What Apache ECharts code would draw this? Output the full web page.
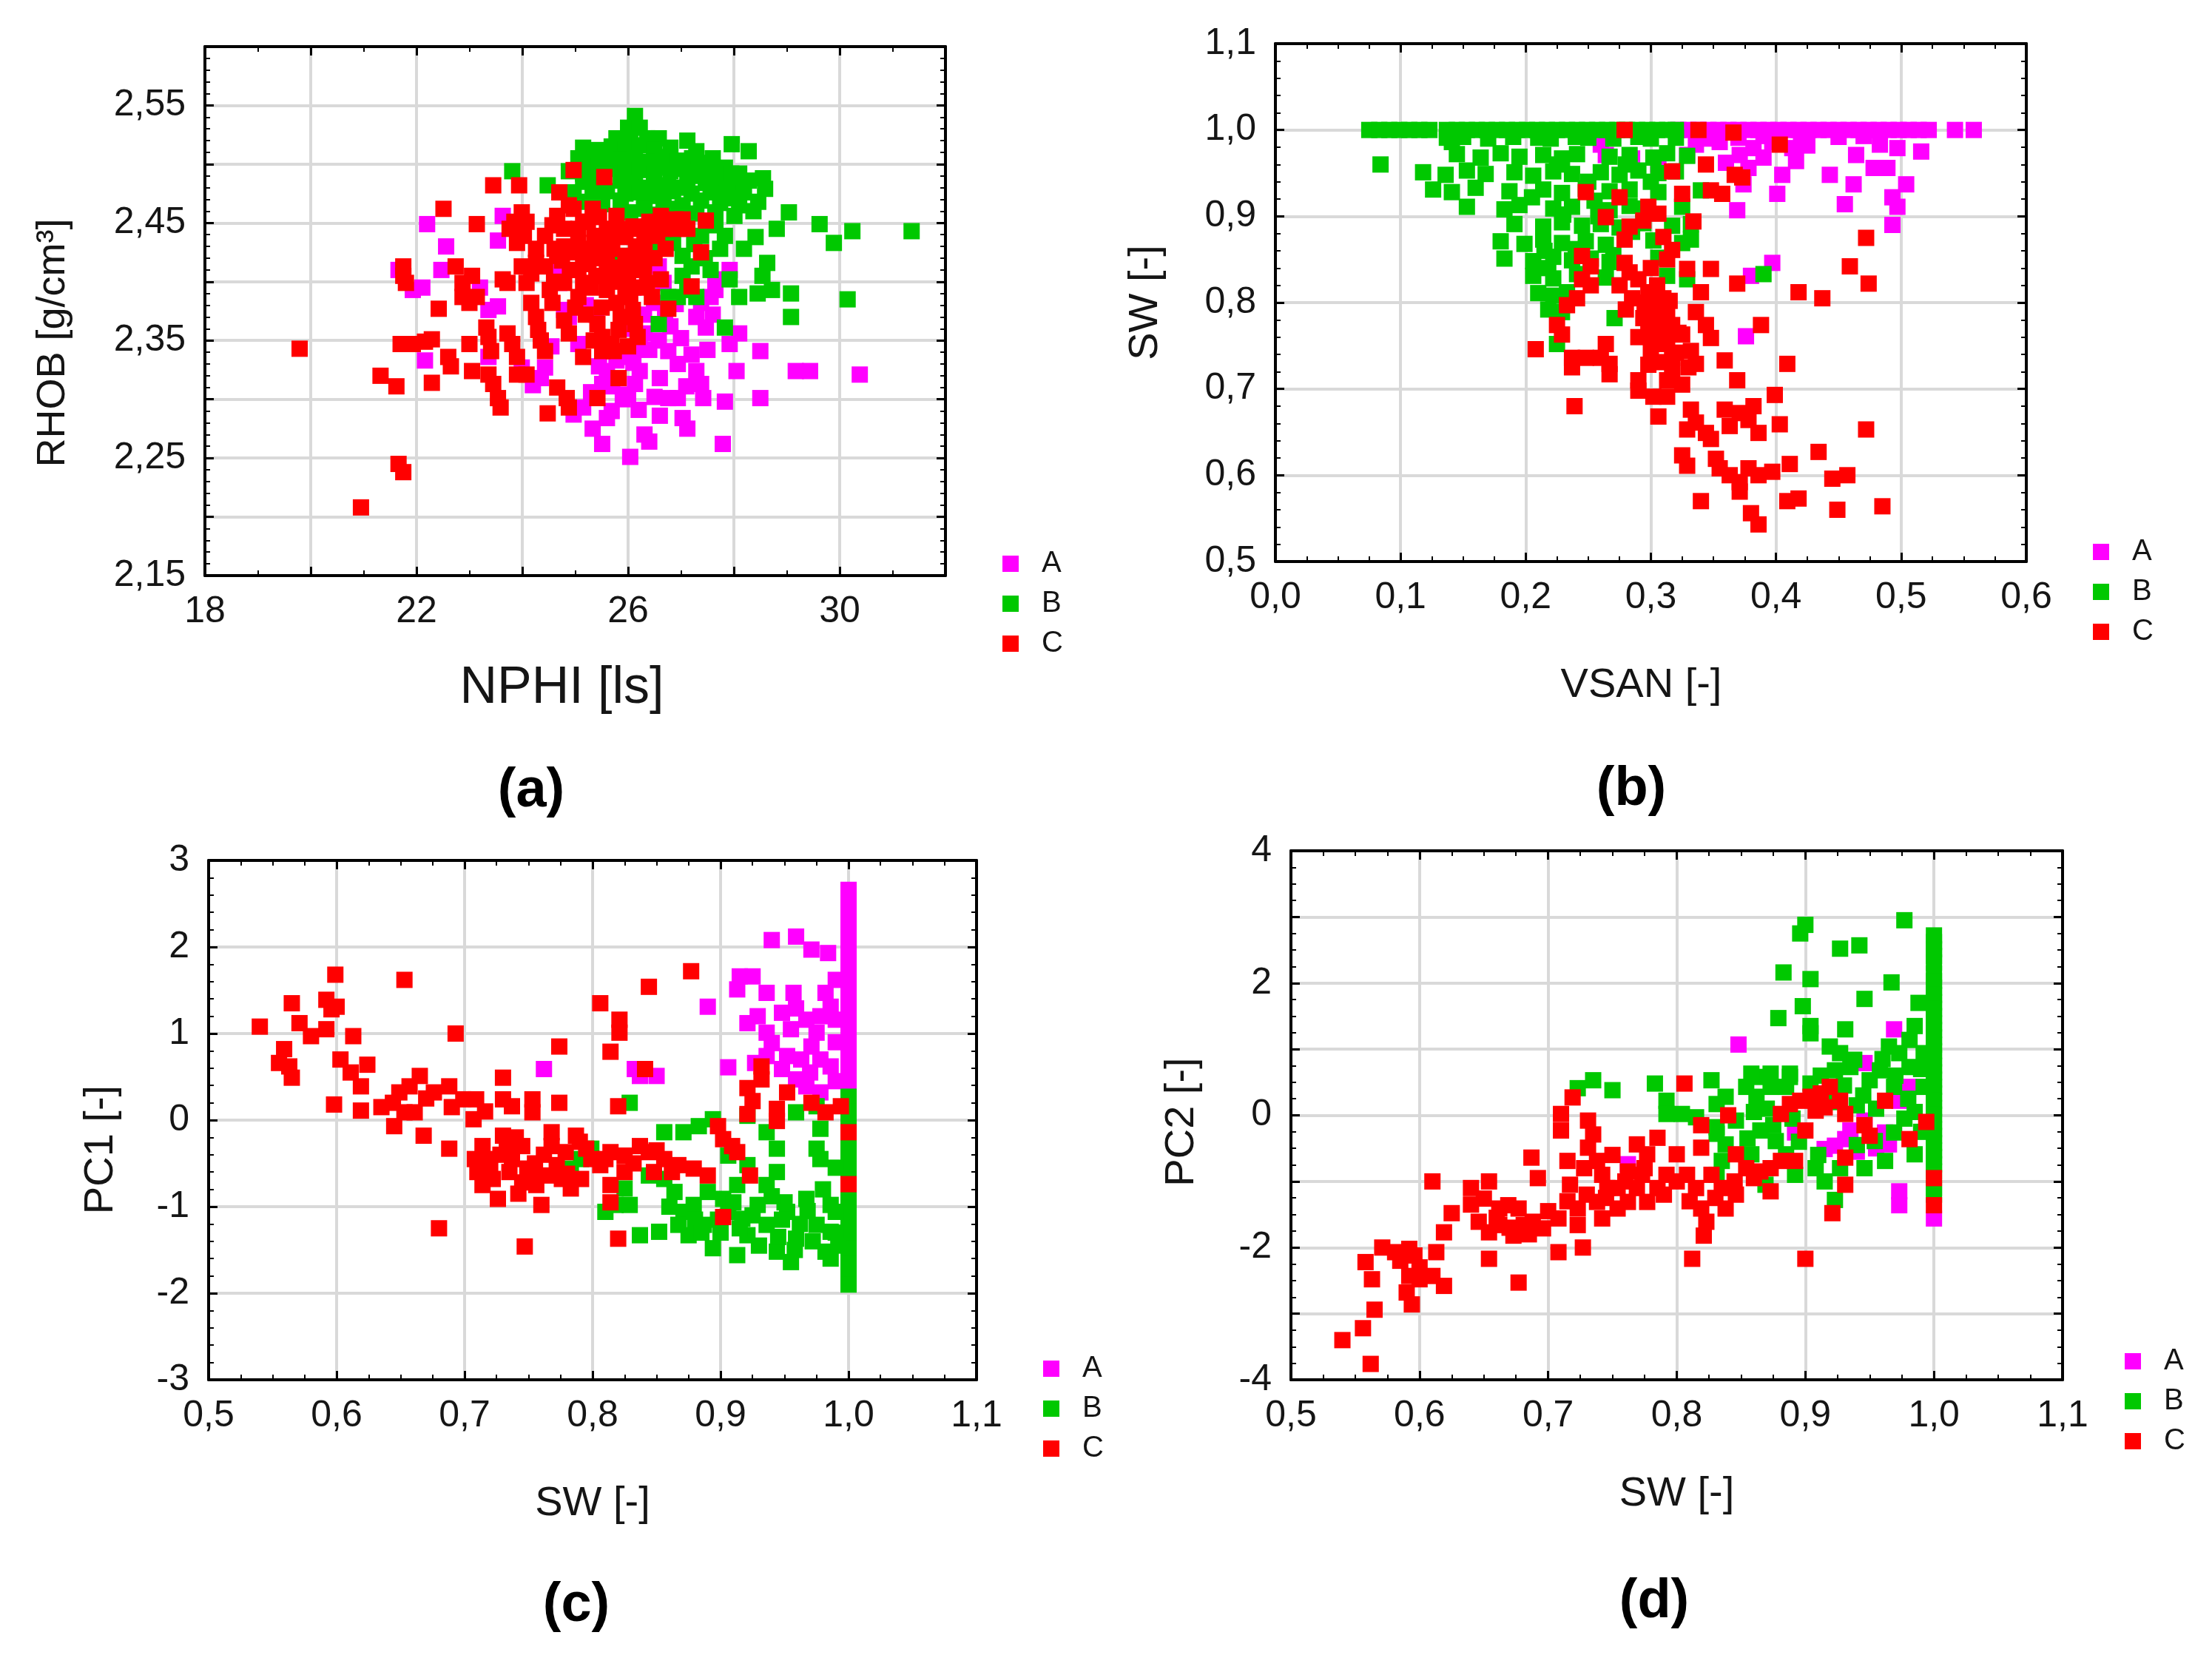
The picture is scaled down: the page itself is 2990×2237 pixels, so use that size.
<!DOCTYPE html>
<html>
<head>
<meta charset="utf-8">
<title>Scatter panels</title>
<script src="https://cdn.jsdelivr.net/npm/echarts@6/dist/echarts.min.js"></script>
<style>
  html, body { margin: 0; padding: 0; background: #fff; }
  #chart { width: 2990px; height: 2237px; }
</style>
</head>
<body>
<div id="chart"></div>
<script>
// tick labels shown on each panel
const xLabA = [18, 22, 26, 30]
const yLabA = [2.15, 2.25, 2.35, 2.45, 2.55]
const xLabB = [0, 0.1, 0.2, 0.3, 0.4, 0.5, 0.6]
const yLabB = [0.5, 0.6, 0.7, 0.8, 0.9, 1.0, 1.1]
const xLabC = [0.5, 0.6, 0.7, 0.8, 0.9, 1.0, 1.1]
const yLabC = [-3, -2, -1, 0, 1, 2, 3]
const xLabD = [0.5, 0.6, 0.7, 0.8, 0.9, 1.0, 1.1]
const yLabD = [-4, -2, 0, 2, 4]

// (a) NPHI vs RHOB
const rhobA = [[22.2,2.449],[22.56,2.430],[22.47,2.410],[21.66,2.410],[21.93,2.393],[22.11,2.395],[22.16,2.333],[23.54,2.435],[23.63,2.456],[23.36,2.376],[23.54,2.379],[23.36,2.336],[23.99,2.327],[24.61,2.410],[24.7,2.399],[24.79,2.376],[24.88,2.370],[24.43,2.327],[24.35,2.318],[25.06,2.347],[24.97,2.287],[25.15,2.293],[25.33,2.275],[25.51,2.262],[25.6,2.284],[25.69,2.290],[25.51,2.313],[25.6,2.324],[25.78,2.333],[25.69,2.341],[26.04,2.251],[26.0,2.304],[26.13,2.313],[26.22,2.324],[26.04,2.336],[26.22,2.344],[26.31,2.356],[26.31,2.270],[26.4,2.264],[26.58,2.413],[26.67,2.399],[26.49,2.382],[26.58,2.350],[26.76,2.341],[26.94,2.330],[26.76,2.301],[26.94,2.301],[27.03,2.284],[27.12,2.275],[27.29,2.324],[27.38,2.313],[27.42,2.301],[27.29,2.370],[27.47,2.361],[27.38,2.382],[27.56,2.387],[27.65,2.393],[27.65,2.402],[27.92,2.410],[27.83,2.298],[27.79,2.262],[27.92,2.347],[28.1,2.356],[28.05,2.324],[28.5,2.341],[28.5,2.301],[29.17,2.324],[29.44,2.324],[30.38,2.321],[25.2,2.380],[25.4,2.372],[26.1,2.395],[26.3,2.372],[25.9,2.300],[26.6,2.318],
  [25.9,2.360],[26.1,2.331],[26.4,2.342],[26.8,2.362],[27.0,2.352],[27.2,2.338],[26.5,2.302],[26.2,2.291],[25.7,2.311],[26.9,2.381],[27.5,2.342],[27.1,2.311],[26.6,2.286],[25.3,2.306],[24.55,2.345],[24.2,2.312],[23.2,2.395],[26.7,2.372],[27.6,2.372],[25.45,2.328]]
const rhobB = [[26.13,2.541],[26.0,2.531],[26.22,2.531],[25.78,2.522],[26.04,2.522],[26.36,2.522],[26.58,2.522],[27.12,2.520],[27.96,2.517],[28.28,2.511],
  [25.15,2.514],[25.42,2.512],[25.69,2.515],[25.95,2.513],[26.22,2.516],[26.49,2.512],[26.8,2.514],[27.29,2.511],
  [25.06,2.505],[25.33,2.503],[25.6,2.506],[25.86,2.504],[26.13,2.505],[26.4,2.502],[26.67,2.506],[26.94,2.503],[27.21,2.505],[27.47,2.501],
  [24.88,2.494],[25.15,2.492],[25.69,2.496],[25.95,2.493],[26.22,2.495],[26.49,2.492],[26.8,2.494],[27.03,2.496],[27.29,2.493],[27.56,2.495],[27.83,2.497],[28.1,2.492],
  [25.15,2.485],[25.42,2.483],[25.86,2.486],[26.13,2.484],[26.49,2.485],[26.76,2.482],[27.12,2.486],[27.47,2.484],[27.74,2.485],[28.01,2.483],[28.28,2.486],[28.55,2.488],
  [24.97,2.476],[25.33,2.474],[25.6,2.477],[25.95,2.475],[26.22,2.476],[26.58,2.473],[26.85,2.477],[27.2,2.475],[27.56,2.476],[27.83,2.474],[28.19,2.476],[28.59,2.479],
  [25.06,2.468],[25.51,2.466],[25.86,2.469],[26.31,2.467],[26.67,2.468],[27.03,2.465],[27.38,2.469],[27.74,2.467],[28.1,2.465],[28.46,2.468],
  [26.04,2.459],[26.58,2.457],[26.94,2.460],[27.29,2.458],[27.65,2.459],[28.01,2.456],[28.37,2.460],
  [25.3,2.490],[25.5,2.471],[26.6,2.497],[27.6,2.505],[26.3,2.462],[27.9,2.471],[25.45,2.499],[26.35,2.480],[27.0,2.480],[27.4,2.490],[26.75,2.462],[27.95,2.492],
  [23.81,2.494],[24.48,2.482],[29.04,2.459],[29.62,2.449],[30.24,2.443],[31.36,2.443],[29.89,2.433],[28.81,2.445],[28.41,2.438],[28.19,2.428],[27.65,2.448],[27.83,2.439],[27.74,2.428],[26.85,2.433],[27.03,2.422],[27.2,2.413],[27.38,2.439],[27.56,2.410],[27.92,2.402],[28.1,2.387],[28.63,2.416],[28.54,2.405],[28.72,2.393],[29.08,2.390],[28.45,2.390],[29.08,2.370],[30.15,2.385],[26.58,2.364],[26.76,2.387],[26.94,2.387],[27.29,2.387],[27.83,2.361],[25.86,2.422],[26.45,2.428],[27.03,2.405],[27.12,2.393],[27.45,2.420],[27.25,2.432]]
const rhobC = [[19.79,2.343],[20.95,2.208],[21.66,2.245],[21.75,2.238],[21.32,2.320],[21.62,2.311],[21.75,2.413],[21.75,2.405],[21.8,2.399],[21.7,2.347],[21.93,2.347],[22.16,2.349],[22.29,2.351],[22.29,2.314],[22.42,2.377],[22.51,2.462],[22.6,2.336],[22.65,2.328],[22.74,2.413],[22.87,2.399],[22.87,2.387],[23.0,2.382],[23.05,2.405],[23.14,2.387],[23.0,2.347],[23.05,2.324],[23.14,2.449],[23.32,2.361],[23.36,2.353],[23.41,2.341],[23.36,2.321],[23.45,2.313],[23.54,2.301],[23.59,2.293],[23.45,2.482],[23.63,2.402],[23.72,2.399],[23.76,2.445],[23.85,2.451],[23.72,2.356],[23.81,2.347],[23.9,2.336],[23.9,2.321],[23.94,2.482],[23.99,2.459],[24.08,2.451],[24.03,2.439],[23.99,2.413],[24.08,2.399],[24.17,2.382],[24.26,2.370],[24.3,2.359],[24.08,2.321],[24.35,2.350],[24.43,2.341],[24.48,2.288],[24.52,2.393],[24.57,2.382],[24.57,2.448],[24.66,2.456],[24.7,2.476],[24.66,2.422],[24.61,2.428],[24.79,2.430],[24.66,2.310],[24.84,2.301],[24.88,2.293],[24.79,2.367],[24.88,2.356],[24.97,2.495],[24.88,2.465],[24.79,2.399],[25.06,2.433],[25.15,2.422],[25.06,2.410],[25.15,2.399],[25.06,2.387],[25.15,2.336],[25.24,2.451],[25.37,2.439],[25.33,2.428],[25.42,2.301],[25.42,2.364],[25.51,2.353],[25.51,2.341],[25.55,2.489],[25.6,2.445],[25.69,2.433],[25.6,2.416],[25.64,2.405],[25.6,2.393],[25.78,2.456],[25.86,2.445],[25.82,2.318],[25.78,2.382],[25.86,2.370],[25.82,2.359],[25.69,2.347],[25.73,2.341],[25.95,2.422],[26.04,2.410],[26.0,2.399],[26.04,2.387],[26.09,2.376],[26.13,2.364],[26.18,2.353],[26.22,2.445],[26.31,2.433],[26.22,2.422],[26.4,2.451],[26.49,2.439],[26.36,2.399],[26.45,2.387],[26.62,2.456],[26.67,2.445],[26.71,2.428],[26.62,2.402],[26.76,2.377],[26.89,2.453],[26.94,2.445],[27.03,2.453],[27.12,2.445],[27.2,2.396],[27.38,2.425],[27.47,2.452],[23.9,2.433],[24.26,2.428],[24.43,2.439],[24.26,2.416],[24.43,2.413],[24.17,2.407],[24.97,2.462],[25.15,2.451],[25.33,2.462],[24.79,2.445],[25.06,2.445],
  [24.75,2.418],[24.95,2.425],[25.25,2.415],[25.45,2.420],[25.7,2.428],[25.95,2.438],[26.1,2.447],[26.3,2.410],[25.3,2.395],[25.5,2.378],[25.75,2.400],[25.2,2.372],[25.95,2.390],[26.25,2.395],[24.9,2.410],[25.45,2.455],[26.5,2.420],[25.0,2.378],[25.35,2.350],[26.0,2.345],[25.4,2.405],[25.85,2.412],[26.15,2.430],[24.6,2.400],[25.55,2.432],[26.55,2.440]]

// (b) VSAN vs SW
const swVsanA = [[0.322,1.0],[0.330,1.0],[0.338,1.0],[0.346,1.0],[0.354,1.0],[0.362,1.0],[0.370,1.0],[0.378,1.0],[0.386,1.0],[0.394,1.0],[0.402,1.0],[0.410,1.0],[0.418,1.0],[0.426,1.0],[0.434,1.0],[0.442,1.0],[0.450,1.0],[0.458,1.0],[0.466,1.0],[0.474,1.0],[0.482,1.0],[0.490,1.0],[0.498,1.0],[0.506,1.0],[0.514,1.0],[0.522,1.0],[0.543,1.0],[0.558,1.0],
  [0.35,0.992],[0.37,0.991],[0.39,0.993],[0.42,0.991],[0.45,0.992],[0.47,0.993],
  [0.260,0.983],[0.264,0.971],[0.285,0.967],[0.306,0.960],[0.329,0.971],[0.336,0.983],[0.344,0.990],[0.355,0.986],[0.371,0.971],[0.378,0.956],[0.374,0.937],[0.382,0.979],[0.397,0.986],[0.413,0.979],[0.416,0.964],[0.405,0.948],[0.401,0.926],[0.369,0.907],[0.443,0.948],[0.464,0.971],[0.483,0.983],[0.497,0.979],[0.516,0.975],[0.478,0.956],[0.489,0.956],[0.504,0.937],[0.462,0.937],[0.455,0.914],[0.493,0.922],[0.497,0.911],[0.493,0.890],[0.397,0.846],[0.380,0.831],[0.376,0.761],[0.39,0.968],[0.425,0.982],[0.36,0.962]]
const swVsanB = [[0.075,1.0],[0.083,1.0],[0.091,1.0],[0.099,1.0],[0.107,1.0],[0.115,1.0],[0.123,1.0],[0.137,1.0],[0.145,1.0],[0.153,1.0],[0.161,1.0],[0.169,1.0],[0.177,1.0],[0.185,1.0],[0.193,1.0],[0.201,1.0],[0.209,1.0],[0.217,1.0],[0.225,1.0],[0.233,1.0],[0.241,1.0],[0.249,1.0],[0.257,1.0],[0.265,1.0],[0.273,1.0],[0.281,1.0],[0.289,1.0],[0.297,1.0],[0.305,1.0],[0.313,1.0],[0.320,1.0],
  [0.137,0.991],[0.150,0.992],[0.170,0.990],[0.190,0.992],[0.210,0.991],[0.220,0.990],[0.240,0.992],[0.250,0.991],[0.270,0.990],[0.290,0.992],[0.300,0.990],[0.320,0.991],
  [0.145,0.972],[0.164,0.968],[0.180,0.973],[0.195,0.969],[0.214,0.971],[0.229,0.967],[0.241,0.972],[0.267,0.969],[0.283,0.971],[0.302,0.968],[0.313,0.973],[0.329,0.970],
  [0.118,0.951],[0.136,0.948],[0.153,0.953],[0.168,0.949],[0.191,0.951],[0.206,0.947],[0.222,0.952],[0.237,0.949],[0.260,0.951],[0.275,0.948],[0.290,0.953],[0.306,0.950],
  [0.126,0.931],[0.141,0.928],[0.160,0.933],[0.187,0.929],[0.214,0.931],[0.229,0.927],[0.248,0.932],[0.267,0.929],[0.283,0.931],[0.306,0.928],[0.340,0.930],
  [0.153,0.911],[0.183,0.908],[0.195,0.913],[0.222,0.909],[0.237,0.911],[0.267,0.907],[0.283,0.912],[0.294,0.909],[0.325,0.911],
  [0.191,0.891],[0.214,0.888],[0.229,0.893],[0.245,0.889],[0.260,0.891],[0.275,0.887],[0.294,0.892],[0.317,0.889],[0.332,0.891],
  [0.180,0.871],[0.199,0.868],[0.214,0.873],[0.229,0.869],[0.248,0.871],[0.264,0.867],[0.302,0.872],[0.325,0.869],[0.332,0.873],
  [0.183,0.851],[0.206,0.848],[0.222,0.853],[0.237,0.849],[0.252,0.851],[0.267,0.847],[0.306,0.852],
  [0.206,0.831],[0.222,0.828],[0.241,0.833],[0.264,0.829],[0.313,0.831],[0.329,0.827],[0.390,0.833],
  [0.210,0.811],[0.222,0.808],[0.233,0.812],[0.218,0.792],[0.229,0.789],
  [0.271,0.782],[0.225,0.752],[0.084,0.960],[0.141,0.986],
  [0.225,0.960],[0.25,0.940],[0.28,0.960],[0.205,0.922],[0.255,0.918],[0.23,0.902],[0.285,0.882],[0.215,0.860],[0.24,0.862],[0.27,0.855],[0.218,0.840],[0.258,0.900],[0.30,0.940],[0.32,0.952]]
const swVsanC = [[0.279,1.0],[0.338,1.0],[0.366,0.997],[0.403,0.983],[0.344,0.960],[0.317,0.952],[0.367,0.948],[0.373,0.945],[0.348,0.930],[0.357,0.926],[0.325,0.926],[0.248,0.928],[0.275,0.922],[0.298,0.911],[0.306,0.903],[0.294,0.895],[0.264,0.899],[0.283,0.888],[0.279,0.873],[0.334,0.894],[0.310,0.876],[0.317,0.861],[0.313,0.850],[0.245,0.854],[0.252,0.842],[0.245,0.827],[0.252,0.820],[0.241,0.805],[0.233,0.797],[0.279,0.846],[0.283,0.835],[0.275,0.820],[0.290,0.827],[0.298,0.812],[0.302,0.797],[0.294,0.782],[0.306,0.782],[0.298,0.767],[0.310,0.767],[0.302,0.752],[0.313,0.752],[0.310,0.805],[0.313,0.790],[0.317,0.774],[0.329,0.839],[0.348,0.839],[0.340,0.812],[0.369,0.822],[0.336,0.789],[0.344,0.774],[0.348,0.759],[0.325,0.763],[0.332,0.744],[0.336,0.729],[0.317,0.736],[0.317,0.721],[0.313,0.710],[0.225,0.774],[0.229,0.763],[0.208,0.746],[0.237,0.736],[0.237,0.725],[0.248,0.736],[0.260,0.736],[0.264,0.752],[0.267,0.729],[0.267,0.717],[0.239,0.680],[0.290,0.710],[0.290,0.698],[0.302,0.691],[0.313,0.691],[0.306,0.668],[0.359,0.733],[0.369,0.710],[0.388,0.774],[0.409,0.729],[0.399,0.693],[0.418,0.812],[0.437,0.805],[0.459,0.842],[0.474,0.822],[0.472,0.875],[0.332,0.676],[0.336,0.661],[0.329,0.653],[0.344,0.649],[0.348,0.642],[0.359,0.676],[0.371,0.672],[0.382,0.680],[0.378,0.664],[0.363,0.657],[0.386,0.649],[0.403,0.659],[0.472,0.653],[0.325,0.623],[0.329,0.611],[0.352,0.619],[0.355,0.608],[0.363,0.600],[0.371,0.592],[0.378,0.608],[0.386,0.600],[0.397,0.604],[0.371,0.581],[0.411,0.613],[0.434,0.627],[0.445,0.596],[0.457,0.600],[0.340,0.570],[0.409,0.570],[0.418,0.573],[0.449,0.560],[0.485,0.564],[0.380,0.556],[0.386,0.543],
  [0.295,0.800],[0.305,0.820],[0.315,0.802],[0.300,0.745],[0.310,0.731],[0.320,0.742],[0.290,0.760],[0.300,0.840],[0.322,0.765],[0.280,0.792],[0.325,0.705],[0.330,0.725],[0.305,0.758],[0.298,0.728],[0.285,0.805]]

// (c) SW vs PC1
const pc1A = [[1.0,2.66],[1.0,2.57],[1.0,2.49],[1.0,2.40],[1.0,2.31],[1.0,2.22],[1.0,2.13],[1.0,2.05],[1.0,1.96],[1.0,1.88],[1.0,1.79],[1.0,1.70],[1.0,1.62],[1.0,1.53],[1.0,1.44],[1.0,1.36],[1.0,1.27],[1.0,1.18],[1.0,1.10],[1.0,1.01],[1.0,0.92],[1.0,0.84],[1.0,0.75],[1.0,0.66],[1.0,0.58],[1.0,0.49],[1.0,0.40],[1.0,0.31],
  [0.94,2.08],[0.959,2.12],[0.971,1.97],[0.984,1.93],[0.915,1.66],[0.925,1.66],[0.913,1.51],[0.89,1.31],[0.936,1.47],[0.957,1.47],[0.921,1.12],[0.929,1.20],[0.948,1.24],[0.959,1.29],[0.967,1.16],[0.975,1.01],[0.986,1.31],[0.982,1.47],[0.99,1.16],[0.94,0.89],[0.936,0.74],[0.952,0.74],[0.963,0.70],[0.948,0.59],[0.959,0.47],[0.906,0.61],[0.927,0.66],[0.971,0.85],[0.978,0.70],[0.986,0.62],[0.967,0.39],[0.978,0.32],[0.762,0.59],[0.833,0.59],[0.85,0.51],[0.837,0.51],[0.936,1.01],[0.978,1.20],[0.99,1.62],[0.99,0.90],[0.955,1.05],[0.97,0.55],[0.99,0.45]]
const pc1B = [[1.0,0.27],[1.0,0.18],[1.0,0.10],[1.0,0.01],[1.0,-0.08],[1.0,-0.17],[1.0,-0.25],[1.0,-0.34],[1.0,-0.43],[1.0,-0.52],[1.0,-0.60],[1.0,-0.69],[1.0,-0.78],[1.0,-0.87],[1.0,-0.95],[1.0,-1.04],[1.0,-1.13],[1.0,-1.22],[1.0,-1.30],[1.0,-1.39],[1.0,-1.48],[1.0,-1.57],[1.0,-1.65],[1.0,-1.74],[1.0,-1.83],[1.0,-1.90],
  [0.829,0.20],[0.81,-1.06],[0.818,-0.98],[0.829,-0.98],[0.825,-0.79],[0.844,-0.64],[0.856,-0.68],[0.837,-1.33],[0.852,-1.29],[0.856,-0.14],[0.871,-0.14],[0.883,-0.07],[0.894,0.01],[0.864,-0.83],[0.871,-1.06],[0.879,-0.98],[0.867,-1.21],[0.875,-1.33],[0.887,-1.21],[0.894,-1.48],[0.89,-0.83],[0.902,-0.91],[0.906,-1.06],[0.917,-1.14],[0.921,-1.33],[0.929,-0.98],[0.936,-1.21],[0.944,-1.52],[0.952,-1.06],[0.959,-1.37],[0.967,-0.91],[0.975,-1.21],[0.982,-1.52],[0.99,-1.06],[0.921,0.05],[0.936,-0.14],[0.944,-0.33],[0.959,0.09],[0.975,0.16],[0.978,-0.10],[0.975,-0.33],[0.978,-0.45],[0.944,-0.60],[0.921,-0.52],[0.906,-0.41],[0.913,-0.75],[0.936,-0.75],[0.986,-0.98],[0.986,-1.29],[0.955,-1.64],[0.986,-1.60],[0.913,-1.56],[0.799,-0.33],[0.791,-0.45],[0.783,-0.56],[0.88,-1.15],[0.95,-0.95],[0.962,-1.20],[0.93,-1.45],[0.99,-1.30],
  [0.885,-1.30],[0.898,-1.15],[0.91,-0.95],[0.925,-1.10],[0.94,-0.88],[0.945,-1.35],[0.958,-1.50],[0.968,-1.05],[0.972,-1.40],[0.98,-0.80],[0.99,-0.55],[0.992,-1.45],[0.86,-1.00],[0.9,-1.30],[0.948,-1.15],[0.915,-1.25]]
const pc1C = [[0.54,1.08],[0.565,1.35],[0.571,1.12],[0.58,0.97],[0.559,0.82],[0.555,0.66],[0.563,0.62],[0.565,0.49],[0.592,1.39],[0.596,1.28],[0.592,1.05],[0.6,1.31],[0.599,1.68],[0.613,0.97],[0.603,0.70],[0.611,0.55],[0.619,0.39],[0.624,0.64],[0.598,0.18],[0.619,0.11],[0.653,1.62],[0.693,1.00],[0.644,0.20],[0.649,0.32],[0.657,0.39],[0.665,0.51],[0.653,0.09],[0.645,-0.07],[0.661,0.09],[0.668,-0.18],[0.688,-0.33],[0.676,0.32],[0.688,0.39],[0.699,0.24],[0.709,0.24],[0.707,0.01],[0.73,0.49],[0.73,0.24],[0.737,0.16],[0.753,0.24],[0.753,0.09],[0.774,0.20],[0.774,0.85],[0.714,-0.30],[0.718,-0.45],[0.71,-0.60],[0.714,-0.75],[0.726,-0.91],[0.73,-0.18],[0.733,-0.33],[0.745,-0.30],[0.737,-0.45],[0.749,-0.56],[0.745,-0.72],[0.756,-0.75],[0.76,-0.98],[0.768,-0.14],[0.768,-0.30],[0.779,-0.37],[0.787,-0.18],[0.795,-0.33],[0.776,-0.68],[0.783,-0.79],[0.791,-0.68],[0.764,-0.64],[0.68,-1.25],[0.747,-1.46],[0.799,-0.45],[0.806,-0.52],[0.814,-0.37],[0.825,-0.41],[0.837,-0.30],[0.844,-0.37],[0.848,-0.60],[0.856,-0.45],[0.825,-0.60],[0.814,-0.75],[0.814,-0.95],[0.82,-1.37],[0.806,1.35],[0.821,1.16],[0.821,1.01],[0.814,0.79],[0.844,1.54],[0.877,1.72],[0.82,0.16],[0.841,0.59],[0.867,-0.52],[0.879,-0.56],[0.89,-0.64],[0.898,-0.07],[0.902,-0.22],[0.909,-0.30],[0.913,-0.37],[0.902,-1.12],[0.923,-0.64],[0.921,0.37],[0.925,0.22],[0.921,0.07],[0.932,0.62],[0.932,0.47],[0.944,0.13],[0.952,0.32],[0.944,-0.01],[0.971,0.20],[0.982,0.09],[0.994,0.16],[1.0,-0.14],[1.0,-0.74],
  [0.72,-0.52],[0.722,-0.68],[0.735,-0.60],[0.742,-0.85],[0.755,-0.50],[0.762,-0.40],[0.772,-0.52],[0.78,-0.62],[0.79,-0.25],[0.752,-0.62],[0.728,-0.40],[0.708,-0.45],[0.74,-0.20],[0.81,-0.45],[0.832,-0.50],[0.85,-0.35],[0.862,-0.60],[0.635,0.15],[0.67,0.25],[0.69,0.15],[0.716,0.10]]

// (d) SW vs PC2
const pc2A = [[0.848,1.07],[0.969,1.30],[0.946,0.79],[0.762,-0.74],[0.973,0.22],[0.923,-0.46],[0.931,-0.36],[0.915,-0.51],[0.962,-0.26],[0.965,-0.44],[0.973,-1.15],[0.973,-1.36],[1.0,-1.56],[0.946,-0.08],[0.935,-0.23],[0.981,0.43],[0.892,-0.26],[0.955,-0.50],[0.94,-0.55]]
const pc2B = [[0.9,2.88],[0.896,2.75],[0.977,2.95],[0.927,2.52],[0.942,2.57],[0.883,2.16],[0.904,2.06],[0.967,2.01],[0.946,1.76],[0.898,1.65],[0.879,1.47],[0.904,1.35],[0.904,1.24],[0.988,1.70],
  [1.0,2.72],[1.0,2.62],[1.0,2.51],[1.0,2.41],[1.0,2.31],[1.0,2.14],[1.0,2.03],[1.0,1.93],[1.0,1.82],[1.0,1.71],[1.0,1.61],[1.0,1.50],[1.0,1.39],[1.0,1.29],[1.0,1.18],[1.0,1.07],[1.0,0.97],[1.0,0.86],[1.0,0.75],[1.0,0.65],[1.0,0.54],[1.0,0.43],[1.0,0.33],[1.0,0.22],[1.0,0.11],[1.0,0.01],[1.0,-0.10],[1.0,-0.21],[1.0,-0.31],[1.0,-0.42],[1.0,-0.53],[1.0,-0.63],[1.0,-0.74],[1.0,-0.85],[1.0,-1.10],[1.0,-1.20],
  [0.931,1.30],[0.919,1.04],[0.927,0.94],[0.935,0.73],[0.923,0.68],[0.938,0.84],[0.965,1.04],[0.973,0.94],[0.981,1.14],[0.985,1.35],[0.992,0.94],[0.95,0.53],[0.958,0.68],[0.969,0.43],[0.981,0.73],[0.992,0.43],[0.865,0.58],[0.888,0.63],[0.904,0.48],[0.854,0.43],[0.838,0.28],[0.862,0.28],[0.873,0.43],[0.885,0.43],[0.846,-0.08],[0.865,-0.23],[0.877,-0.39],[0.885,-0.59],[0.892,-0.90],[0.908,-0.80],[0.915,-1.00],[0.927,-0.80],[0.831,-0.18],[0.838,-0.44],[0.835,-0.69],[0.831,-0.90],[0.858,-0.59],[0.869,-1.05],[0.923,-1.28],[0.946,-0.80],[0.962,-0.69],[0.985,-0.59],[0.954,-0.39],[0.969,-0.26],[0.977,-0.05],[0.735,0.53],[0.75,0.38],[0.723,0.41],[0.783,0.48],[0.792,0.22],[0.792,0.02],[0.804,0.02],[0.815,-0.03],[0.827,0.53],[0.831,0.17],[0.858,0.63],[0.873,0.63],[0.888,0.58],[0.831,-0.28],[0.94,0.15],[0.955,0.10],[0.985,0.05],[0.99,-0.25],
  [0.87,0.10],[0.89,-0.05],[0.86,0.05],[0.855,-0.35],[0.875,-0.15],[0.895,-0.40],[0.91,-0.60],[0.92,0.20],[0.93,0.45],[0.945,0.30],[0.96,0.85],[0.97,0.60],[0.98,0.25],[0.99,0.70],[0.912,0.60],[0.94,-0.45]]
const pc2C = [[0.54,-3.40],[0.556,-3.22],[0.562,-3.76],[0.565,-2.94],[0.558,-2.22],[0.563,-2.48],[0.571,-2.00],[0.581,-2.07],[0.592,-2.02],[0.596,-2.12],[0.59,-2.68],[0.594,-2.86],[0.592,-2.43],[0.6,-2.48],[0.61,-2.43],[0.619,-2.58],[0.613,-2.07],[0.61,-1.00],[0.619,-1.77],[0.625,-1.48],[0.64,-1.10],[0.654,-1.00],[0.654,-2.17],[0.646,-1.61],[0.654,-1.77],[0.662,-1.66],[0.669,-1.36],[0.677,-1.41],[0.673,-1.82],[0.681,-1.66],[0.688,-1.61],[0.696,-1.71],[0.708,-1.56],[0.65,-1.26],[0.662,-1.41],[0.677,-2.53],[0.687,-0.64],[0.692,-0.95],[0.708,-2.07],[0.727,-2.00],[0.71,0.02],[0.71,-0.23],[0.719,0.27],[0.715,-0.69],[0.717,-1.05],[0.723,-1.41],[0.723,-1.66],[0.731,-0.08],[0.735,-0.29],[0.731,-0.49],[0.738,-0.69],[0.742,-0.90],[0.746,-1.10],[0.738,-1.31],[0.742,-1.56],[0.754,-1.10],[0.762,-0.85],[0.754,-1.41],[0.762,-1.31],[0.769,-1.10],[0.769,-0.44],[0.777,-0.59],[0.785,-0.34],[0.773,-0.90],[0.785,-1.10],[0.792,-0.90],[0.777,-1.31],[0.8,-0.59],[0.808,-0.90],[0.815,-1.10],[0.819,-1.41],[0.823,-1.61],[0.821,-1.82],[0.827,-0.90],[0.835,-1.10],[0.838,-1.41],[0.846,-1.20],[0.812,-2.17],[0.806,0.48],[0.819,-0.15],[0.819,-0.49],[0.84,0.00],[0.846,-0.59],[0.854,-0.80],[0.865,-0.85],[0.873,-0.80],[0.881,-0.69],[0.873,-1.15],[0.892,-0.69],[0.9,-0.23],[0.9,-2.17],[0.881,0.02],[0.888,0.17],[0.896,0.22],[0.904,0.28],[0.912,0.33],[0.919,0.43],[0.927,0.22],[0.931,0.02],[0.908,0.07],[0.915,0.12],[0.931,-0.64],[0.931,-1.05],[0.921,-1.48],[0.946,-0.15],[0.95,-0.31],[0.962,0.22],[0.981,-0.36],[0.994,-0.10],[1.0,-0.95],[1.0,-1.36],
  [0.66,-1.55],[0.67,-1.70],[0.685,-1.80],[0.70,-1.45],[0.715,-1.30],[0.73,-1.20],[0.745,-1.25],[0.76,-1.00],[0.775,-0.80],[0.79,-1.20],[0.80,-1.00],[0.81,-1.30],[0.83,-1.25],[0.845,-1.00],[0.86,-0.95],[0.728,-0.80],[0.75,-0.60],[0.64,-1.35],[0.6,-2.30],[0.585,-2.20]]

const FONT = "'Liberation Sans', Arial, sans-serif"
const TEXT = '#151515'
const colors = ['#ff00ff', '#00c800', '#ff0000']
const names = ['A', 'B', 'C']

// layout of the four panels (pixels)
const panels = [
  {
    grid: { left: 277, top: 63, width: 1001, height: 715 },
    x: { min: 18, max: 32, interval: 2, minor: 2, labels: xLabA, dec: 0, name: 'NPHI [ls]', gap: 118, size: 70, pad: [0, 36, 0, 0] },
    y: { min: 2.15, max: 2.6, interval: 0.05, minor: 5, labels: yLabA, dec: 2, name: 'RHOB [g/cm³]', gap: 178, size: 54, pad: [0, 86, 0, 0] },
    legend: { left: 1355, top: 751 },
    caption: { text: '(a)', x: 718, y: 1070 },
    data: [rhobA, rhobB, rhobC]
  },
  {
    grid: { left: 1724, top: 59, width: 1015, height: 700 },
    x: { min: 0, max: 0.6, interval: 0.1, minor: 4, labels: xLabB, dec: 1, name: 'VSAN [-]', gap: 140, size: 56, pad: [0, 26, 0, 0] },
    y: { min: 0.5, max: 1.1, interval: 0.1, minor: 5, labels: yLabB, dec: 1, name: 'SW [-]', gap: 147, size: 56, pad: 0 },
    legend: { left: 2829, top: 735 },
    caption: { text: '(b)', x: 2205, y: 1068 },
    data: [swVsanA, swVsanB, swVsanC]
  },
  {
    grid: { left: 282, top: 1163, width: 1038, height: 702 },
    x: { min: 0.5, max: 1.1, interval: 0.1, minor: 4, labels: xLabC, dec: 1, name: 'SW [-]', gap: 140, size: 56, pad: 0 },
    y: { min: -3, max: 3, interval: 1, minor: 5, labels: yLabC, dec: 0, name: 'PC1 [-]', gap: 117, size: 56, pad: [0, 80, 0, 0] },
    legend: { left: 1410, top: 1839 },
    caption: { text: '(c)', x: 779, y: 2171 },
    data: [pc1A, pc1B, pc1C]
  },
  {
    grid: { left: 1745, top: 1150, width: 1043, height: 715 },
    x: { min: 0.5, max: 1.1, interval: 0.1, minor: 4, labels: xLabD, dec: 1, name: 'SW [-]', gap: 127, size: 56, pad: 0 },
    y: { min: -4, max: 4, interval: 1, minor: 4, labels: yLabD, dec: 0, name: 'PC2 [-]', gap: 119, size: 56, pad: [0, 18, 0, 0] },
    legend: { left: 2872, top: 1829 },
    caption: { text: '(d)', x: 2236, y: 2166 },
    data: [pc2A, pc2B, pc2C]
  }
]

// 小数点用逗号，只显示指定刻度
function labelFormatter(ax) {
  return function (v) {
    const hit = ax.labels.some(l => Math.abs(l - v) < 1e-6)
    return hit ? v.toFixed(ax.dec).replace('.', ',') : ''
  }
}

function makeAxis(ax, gridIndex, position, isMain, isX) {
  return {
    type: 'value',
    gridIndex: gridIndex,
    position: position,
    min: ax.min,
    max: ax.max,
    interval: ax.interval,
    axisLine: { show: true, onZero: false, lineStyle: { color: '#000', width: 4 } },
    axisTick: { show: true, inside: true, length: 12, lineStyle: { color: '#000', width: 3 } },
    minorTick: { show: true, splitNumber: ax.minor, length: 7, lineStyle: { color: '#000', width: 2 } },
    splitLine: { show: isMain, lineStyle: { color: '#d9d9d9', width: 4 } },
    minorSplitLine: { show: false },
    axisLabel: {
      show: isMain,
      margin: isX ? 24 : 26,
      fontSize: 50,
      fontFamily: FONT,
      color: TEXT,
      showMinLabel: true,
      showMaxLabel: true,
      formatter: labelFormatter(ax)
    },
    name: isMain ? ax.name : '',
    nameLocation: 'middle',
    nameGap: ax.gap,
    nameTextStyle: { fontSize: ax.size, fontFamily: FONT, color: TEXT, padding: ax.pad }
  }
}

const chart = echarts.init(document.getElementById('chart'))

const grids = []
const xAxes = []
const yAxes = []
const legends = []
const series = []
const graphics = []

panels.forEach((p, i) => {
  grids.push(Object.assign({ show: false, containLabel: false }, p.grid))
  xAxes.push(makeAxis(p.x, i, 'bottom', true, true))
  xAxes.push(makeAxis(p.x, i, 'top', false, true))
  yAxes.push(makeAxis(p.y, i, 'left', true, false))
  yAxes.push(makeAxis(p.y, i, 'right', false, false))
  legends.push({
    orient: 'vertical',
    left: p.legend.left,
    top: p.legend.top - 9,
    padding: 0,
    itemWidth: 22,
    itemHeight: 22,
    itemGap: 14,
    icon: 'rect',
    selectedMode: false,
    data: names,
    textStyle: { fontSize: 40, fontFamily: FONT, color: TEXT, padding: [0, 0, 0, 26] }
  })
  p.data.forEach((d, k) => {
    series.push({
      type: 'scatter',
      name: names[k],
      xAxisIndex: 2 * i,
      yAxisIndex: 2 * i,
      data: d,
      symbol: 'rect',
      symbolSize: 22,
      itemStyle: { color: colors[k], opacity: 1 },
      emphasis: { disabled: true },
      z: 2 + k
    })
  })
  graphics.push({
    type: 'text',
    x: p.caption.x,
    y: p.caption.y,
    style: {
      text: p.caption.text,
      fontSize: 74,
      fontWeight: 'bold',
      fontFamily: FONT,
      fill: '#000',
      align: 'center',
      verticalAlign: 'middle'
    }
  })
})

chart.setOption({
  animation: false,
  backgroundColor: '#fff',
  grid: grids,
  xAxis: xAxes,
  yAxis: yAxes,
  legend: legends,
  series: series,
  graphic: graphics
})
</script>
</body>
</html>
